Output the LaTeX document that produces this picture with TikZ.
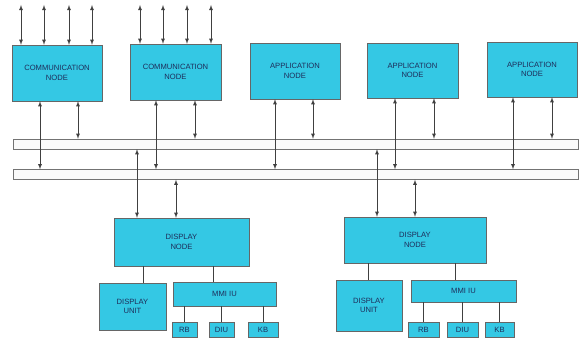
\documentclass[tikz,border=0pt]{standalone}
\usepackage{fontspec}
\setsansfont{Liberation Sans}
\definecolor{nodecyan}{RGB}{52,200,228}
\definecolor{labelblue}{RGB}{30,45,90}
\begin{document}
\begin{tikzpicture}[x=0.03cm,y=-0.03cm,>=latex,
  blk/.style 2 args={draw=black!60,fill=nodecyan,text=labelblue,align=center,inner sep=0pt,
    font=\sffamily\fontsize{6.5}{8}\selectfont,minimum width=#1*0.03cm,minimum height=#2*0.03cm},
  bus/.style={draw=black!55,fill=black!2,inner sep=0pt,minimum width=16.95cm,minimum height=0.3cm},
  link/.style={draw=black!75,line width=0.5pt}]
  \useasboundingbox (0,0) rectangle (579,338);
  % upper nodes
  \node[blk={90}{56}] (c1) at (57,73) {COMMUNICATION\\NODE};
  \node[blk={91}{56}] (c2) at (175.5,72) {COMMUNICATION\\NODE};
  \node[blk={90}{56}] (a1) at (295,71) {APPLICATION\\NODE};
  \node[blk={91}{55}] (a2) at (412.5,70.5) {APPLICATION\\NODE};
  \node[blk={90}{55}] (a3) at (532,69.5) {APPLICATION\\NODE};
  % buses
  \node[bus] (bus1) at (295.5,144) {};
  \node[bus] (bus2) at (295.5,174.5) {};
  % display nodes
  \node[blk={135}{48}] (d1) at (181.5,242) {DISPLAY\\NODE};
  \node[blk={142}{46}] (d2) at (415,240) {DISPLAY\\NODE};
  \node[blk={67}{47}] (du1) at (132.5,306.5) {DISPLAY\\UNIT};
  \node[blk={103}{24}] (m1) at (224.5,294) {MMI IU};
  \node[blk={25}{15}] (rb1) at (184.5,329.5) {RB};
  \node[blk={25}{15}] (diu1) at (221.5,329.5) {DIU};
  \node[blk={30}{15}] (kb1) at (263,329.5) {KB};
  \node[blk={66}{51}] (du2) at (369,305.5) {DISPLAY\\UNIT};
  \node[blk={105}{22}] (m2) at (463.5,291) {MMI IU};
  \node[blk={31}{15}] (rb2) at (423.5,329.5) {RB};
  \node[blk={31}{15}] (diu2) at (462.5,329.5) {DIU};
  \node[blk={29}{15}] (kb2) at (499.5,329.5) {KB};
  % external lines
  \foreach \x in {21,44,69,92} {
    \coordinate (p\x) at (\x,5);
    \draw[link,<->] (p\x) -- (c1.north -| p\x);
  }
  \foreach \x in {140,163,187,211} {
    \coordinate (p\x) at (\x,5);
    \draw[link,<->] (p\x) -- (c2.north -| p\x);
  }
  % node to bus
  \foreach \n/\a/\b in {c1/40/78,c2/156/195,a1/275/313,a2/395/434,a3/513/552} {
    \draw[link,<->] (\n.south -| \a,0) -- (bus2.north -| \a,0);
    \draw[link,<->] (\n.south -| \b,0) -- (bus1.north -| \b,0);
  }
  \draw[link,<->] (bus1.south -| 137,0) -- (d1.north -| 137,0);
  \draw[link,<->] (bus2.south -| 176,0) -- (d1.north -| 176,0);
  \draw[link,<->] (bus1.south -| 377,0) -- (d2.north -| 377,0);
  \draw[link,<->] (bus2.south -| 415,0) -- (d2.north -| 415,0);
  % display trees
  \draw[link] (d1.south -| 143,0) -- (du1.north -| 143,0);
  \draw[link] (d1.south -| 213,0) -- (m1.north -| 213,0);
  \draw[link] (d2.south -| 368,0) -- (du2.north -| 368,0);
  \draw[link] (d2.south -| 455,0) -- (m2.north -| 455,0);
  \foreach \b in {rb1,diu1,kb1} \draw[link] (m1.south -| \b.north) -- (\b.north);
  \foreach \b in {rb2,diu2,kb2} \draw[link] (m2.south -| \b.north) -- (\b.north);
\end{tikzpicture}
\end{document}
